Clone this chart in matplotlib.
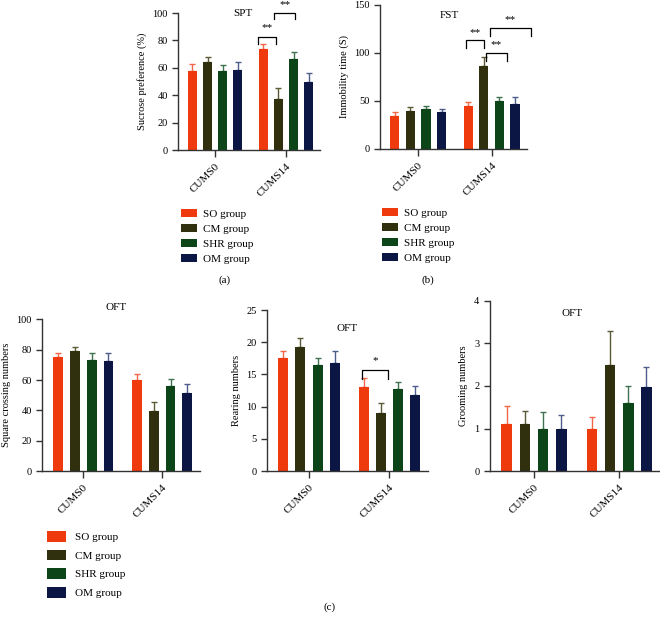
import numpy as np
import matplotlib
matplotlib.use('Agg')
import matplotlib.pyplot as plt

plt.rcParams['font.family'] = ['Liberation Serif', 'DejaVu Serif']
plt.rcParams['font.size'] = 7.5

# groups and time points
groups = ['SO group', 'CM group', 'SHR group', 'OM group']
timepoints = ['CUMS0', 'CUMS14']

# rows = groups, columns = time points (mean and upper SEM)
spt_mean = [[57.5, 74], [64, 37.5], [57.5, 66.5], [58.5, 50]]
spt_err = [[5.5, 3.5], [4, 7.5], [4.5, 5], [6, 6]]
fst_mean = [[34, 44.5], [39, 86], [42, 49.5], [38, 47]]
fst_err = [[4, 4.5], [5, 10], [3, 4.5], [4, 7]]
sq_mean = [[75, 60], [79, 39.5], [73, 56], [72.5, 51.5]]
sq_err = [[2.5, 4], [3, 6], [5, 4.8], [5, 6]]
rear_mean = [[17.5, 13], [19.3, 9], [16.4, 12.7], [16.8, 11.8]]
rear_err = [[1.1, 1.5], [1.4, 1.5], [1.2, 1.1], [1.9, 1.4]]
groom_mean = [[1.1, 0.98], [1.1, 2.48], [0.98, 1.6], [0.98, 1.98]]
groom_err = [[0.42, 0.29], [0.32, 0.8], [0.4, 0.4], [0.35, 0.47]]

# significance brackets: (x0, x1, top, drop, text, text_y)
spt_sig = [(0.60, 0.86, 82.5, 5, '**', 89), (0.83, 1.13, 100, 4.5, '**', 106)]
fst_sig = [(0.65, 0.90, 113, 8, '**', 121), (0.92, 1.21, 100, 8, '**', 109),
           (0.98, 1.54, 126, 8, '**', 135)]
rear_sig = [(0.66, 0.99, 15.7, 1.4, '*', 17.1)]

bar_colors = ['#EE3A0C', '#30300F', '#0C4517', '#0B1645']
err_colors = ['#F2664A', '#5A5A35', '#3E7250', '#4E5E8C']

fig = plt.figure(figsize=(6.6, 6.2), dpi=100)

offsets = np.array([-1.5, -0.5, 0.5, 1.5]) * 0.213
width = 0.125
x = np.arange(len(timepoints))


def bar_panel(rect, means, errs, ylim, yticks, ylabel, title, title_xy, sigs=()):
    ax = fig.add_axes(rect)
    handles = []
    for i, g in enumerate(groups):
        b = ax.bar(x + offsets[i], means[i], width, color=bar_colors[i], label=g, zorder=2)
        ax.errorbar(x + offsets[i], means[i], yerr=[np.zeros(len(x)), errs[i]],
                    fmt='none', ecolor=err_colors[i], elinewidth=1.0, capsize=2.5,
                    capthick=1.0, zorder=1)
        handles.append(b)
    ax.set_xlim(-0.52, 1.48)
    ax.set_ylim(*ylim)
    ax.set_yticks(yticks)
    ax.set_xticks(x)
    ax.set_xticklabels(timepoints, rotation=45, ha='right', rotation_mode='anchor', fontsize=8)
    ax.set_ylabel(ylabel, fontsize=7.5, labelpad=4)
    for s in ['top', 'right']:
        ax.spines[s].set_visible(False)
    for s in ['left', 'bottom']:
        ax.spines[s].set_linewidth(1.0)
        ax.spines[s].set_color('#333333')
    ax.tick_params(axis='both', length=4, width=1.0, color='#333333', labelsize=7.5)
    ax.tick_params(axis='x', length=5, labelsize=8)
    ax.text(title_xy[0], title_xy[1], title, ha='center', va='center', fontsize=8, clip_on=False)
    for x0, x1, top, drop, txt, ty in sigs:
        ax.plot([x0, x0, x1, x1], [top - drop, top, top, top - drop], color='black',
                lw=0.9, clip_on=False)
        ax.text((x0 + x1) / 2, ty, txt, ha='center', va='center', fontsize=8)
    return ax, handles


ax_a, handles = bar_panel([0.270, 0.758, 0.215, 0.221], spt_mean, spt_err, (0, 100),
                          np.arange(0, 101, 20), 'Sucrose preference (%)', 'SPT', (0.39, 99.5), spt_sig)
ax_b, _ = bar_panel([0.576, 0.760, 0.222, 0.232], fst_mean, fst_err, (0, 150),
                    np.arange(0, 151, 50), 'Immobility time (S)', 'FST', (0.43, 139), fst_sig)
ax_c1, _ = bar_panel([0.064, 0.240, 0.239, 0.245], sq_mean, sq_err, (0, 100),
                     np.arange(0, 101, 20), 'Square crossing numbers', 'OFT', (0.42, 108))
ax_c2, _ = bar_panel([0.405, 0.240, 0.243, 0.260], rear_mean, rear_err, (0, 25),
                     np.arange(0, 26, 5), 'Rearing numbers', 'OFT', (0.48, 22.2), rear_sig)
ax_c3, _ = bar_panel([0.742, 0.240, 0.258, 0.275], groom_mean, groom_err, (0, 4),
                     np.arange(0, 5, 1), 'Grooming numbers', 'OFT', (0.45, 3.7))

# legends
fig.legend(handles, groups, loc='upper left', bbox_to_anchor=(181 / 660, 1 - 209 / 620),
           frameon=False, fontsize=8, handlelength=1.45, handleheight=0.75,
           handletextpad=0.55, labelspacing=0.45, borderpad=0, borderaxespad=0)
fig.legend(handles, groups, loc='upper left', bbox_to_anchor=(382 / 660, 1 - 208 / 620),
           frameon=False, fontsize=8, handlelength=1.45, handleheight=0.75,
           handletextpad=0.55, labelspacing=0.45, borderpad=0, borderaxespad=0)
fig.legend(handles, groups, loc='upper left', bbox_to_anchor=(47 / 660, 1 - 531 / 620),
           frameon=False, fontsize=8, handlelength=1.7, handleheight=1.1,
           handletextpad=0.8, labelspacing=0.68, borderpad=0, borderaxespad=0)

fig.text(225 / 660, 1 - 280 / 620, '(a)', ha='center', va='center', fontsize=8)
fig.text(428 / 660, 1 - 280 / 620, '(b)', ha='center', va='center', fontsize=8)
fig.text(330 / 660, 1 - 607 / 620, '(c)', ha='center', va='center', fontsize=8)

fig.savefig('out.png', dpi=100)
